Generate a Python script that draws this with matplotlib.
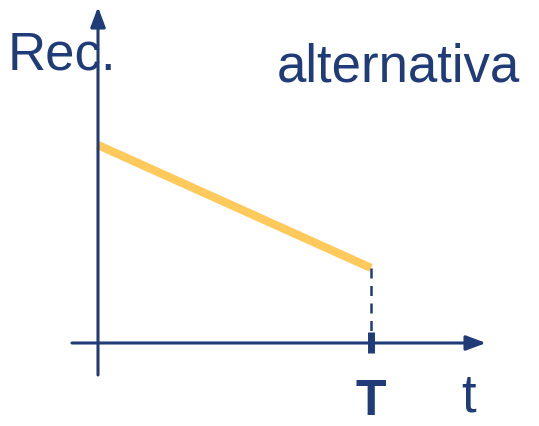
import matplotlib
matplotlib.use("Agg")
import matplotlib.pyplot as plt

# data (conceptual units: T = 1)
t_vals = [0.0, 1.0]
rec_vals = [0.725, 0.275]
T_value = 1.0
labels = {"y": "Rec.", "title": "alternativa", "T": "T", "x": "t"}

navy = "#1F3C78"
yellow = "#FFC95C"

fig = plt.figure(figsize=(5.39, 4.26), dpi=100)
ax = fig.add_axes([0, 0, 1, 1])
ax.set_xlim(-98/273, (539-98)/273)
ax.set_ylim((343-426)/273, 343/273)
ax.axis("off")

font = ["Liberation Sans", "DejaVu Sans"]

# axes arrows
ax.annotate("", xy=(486/273 - 98/273, 0), xytext=(-26/273, 0),
            arrowprops=dict(arrowstyle="-|>,head_length=1.2,head_width=0.45", color=navy, lw=2.2,
                            shrinkA=0, shrinkB=0))
ax.annotate("", xy=(0, (343-7)/273), xytext=(0, (343-375)/273),
            arrowprops=dict(arrowstyle="-|>,head_length=1.2,head_width=0.45", color=navy, lw=2.2,
                            shrinkA=0, shrinkB=0))

# line
ax.plot(t_vals, rec_vals, color=yellow, lw=6, solid_capstyle="butt")
# dashed drop
ax.plot([T_value, T_value], [rec_vals[-1], 0], color=navy, lw=1.8, ls=(0, (4, 3)))
# tick
ax.plot([T_value, T_value], [-10/273, 11/273], color=navy, lw=5, solid_capstyle="butt")

ax.text(8/273 - 98/273, (343-55)/273, labels["y"], fontsize=38, color=navy,
        family=font, va="center", ha="left")
ax.text(520/273 - 98/273, (343-68)/273, labels["title"], fontsize=38, color=navy,
        family=font, va="center", ha="right")
ax.text(T_value, (343-402)/273, labels["T"], fontsize=36, color=navy,
        family=font, va="center", ha="center", fontweight="bold")
ax.text(469/273 - 98/273, (343-397)/273, labels["x"], fontsize=38, color=navy,
        family=font, va="center", ha="center")

fig.savefig("out.png", dpi=100)
